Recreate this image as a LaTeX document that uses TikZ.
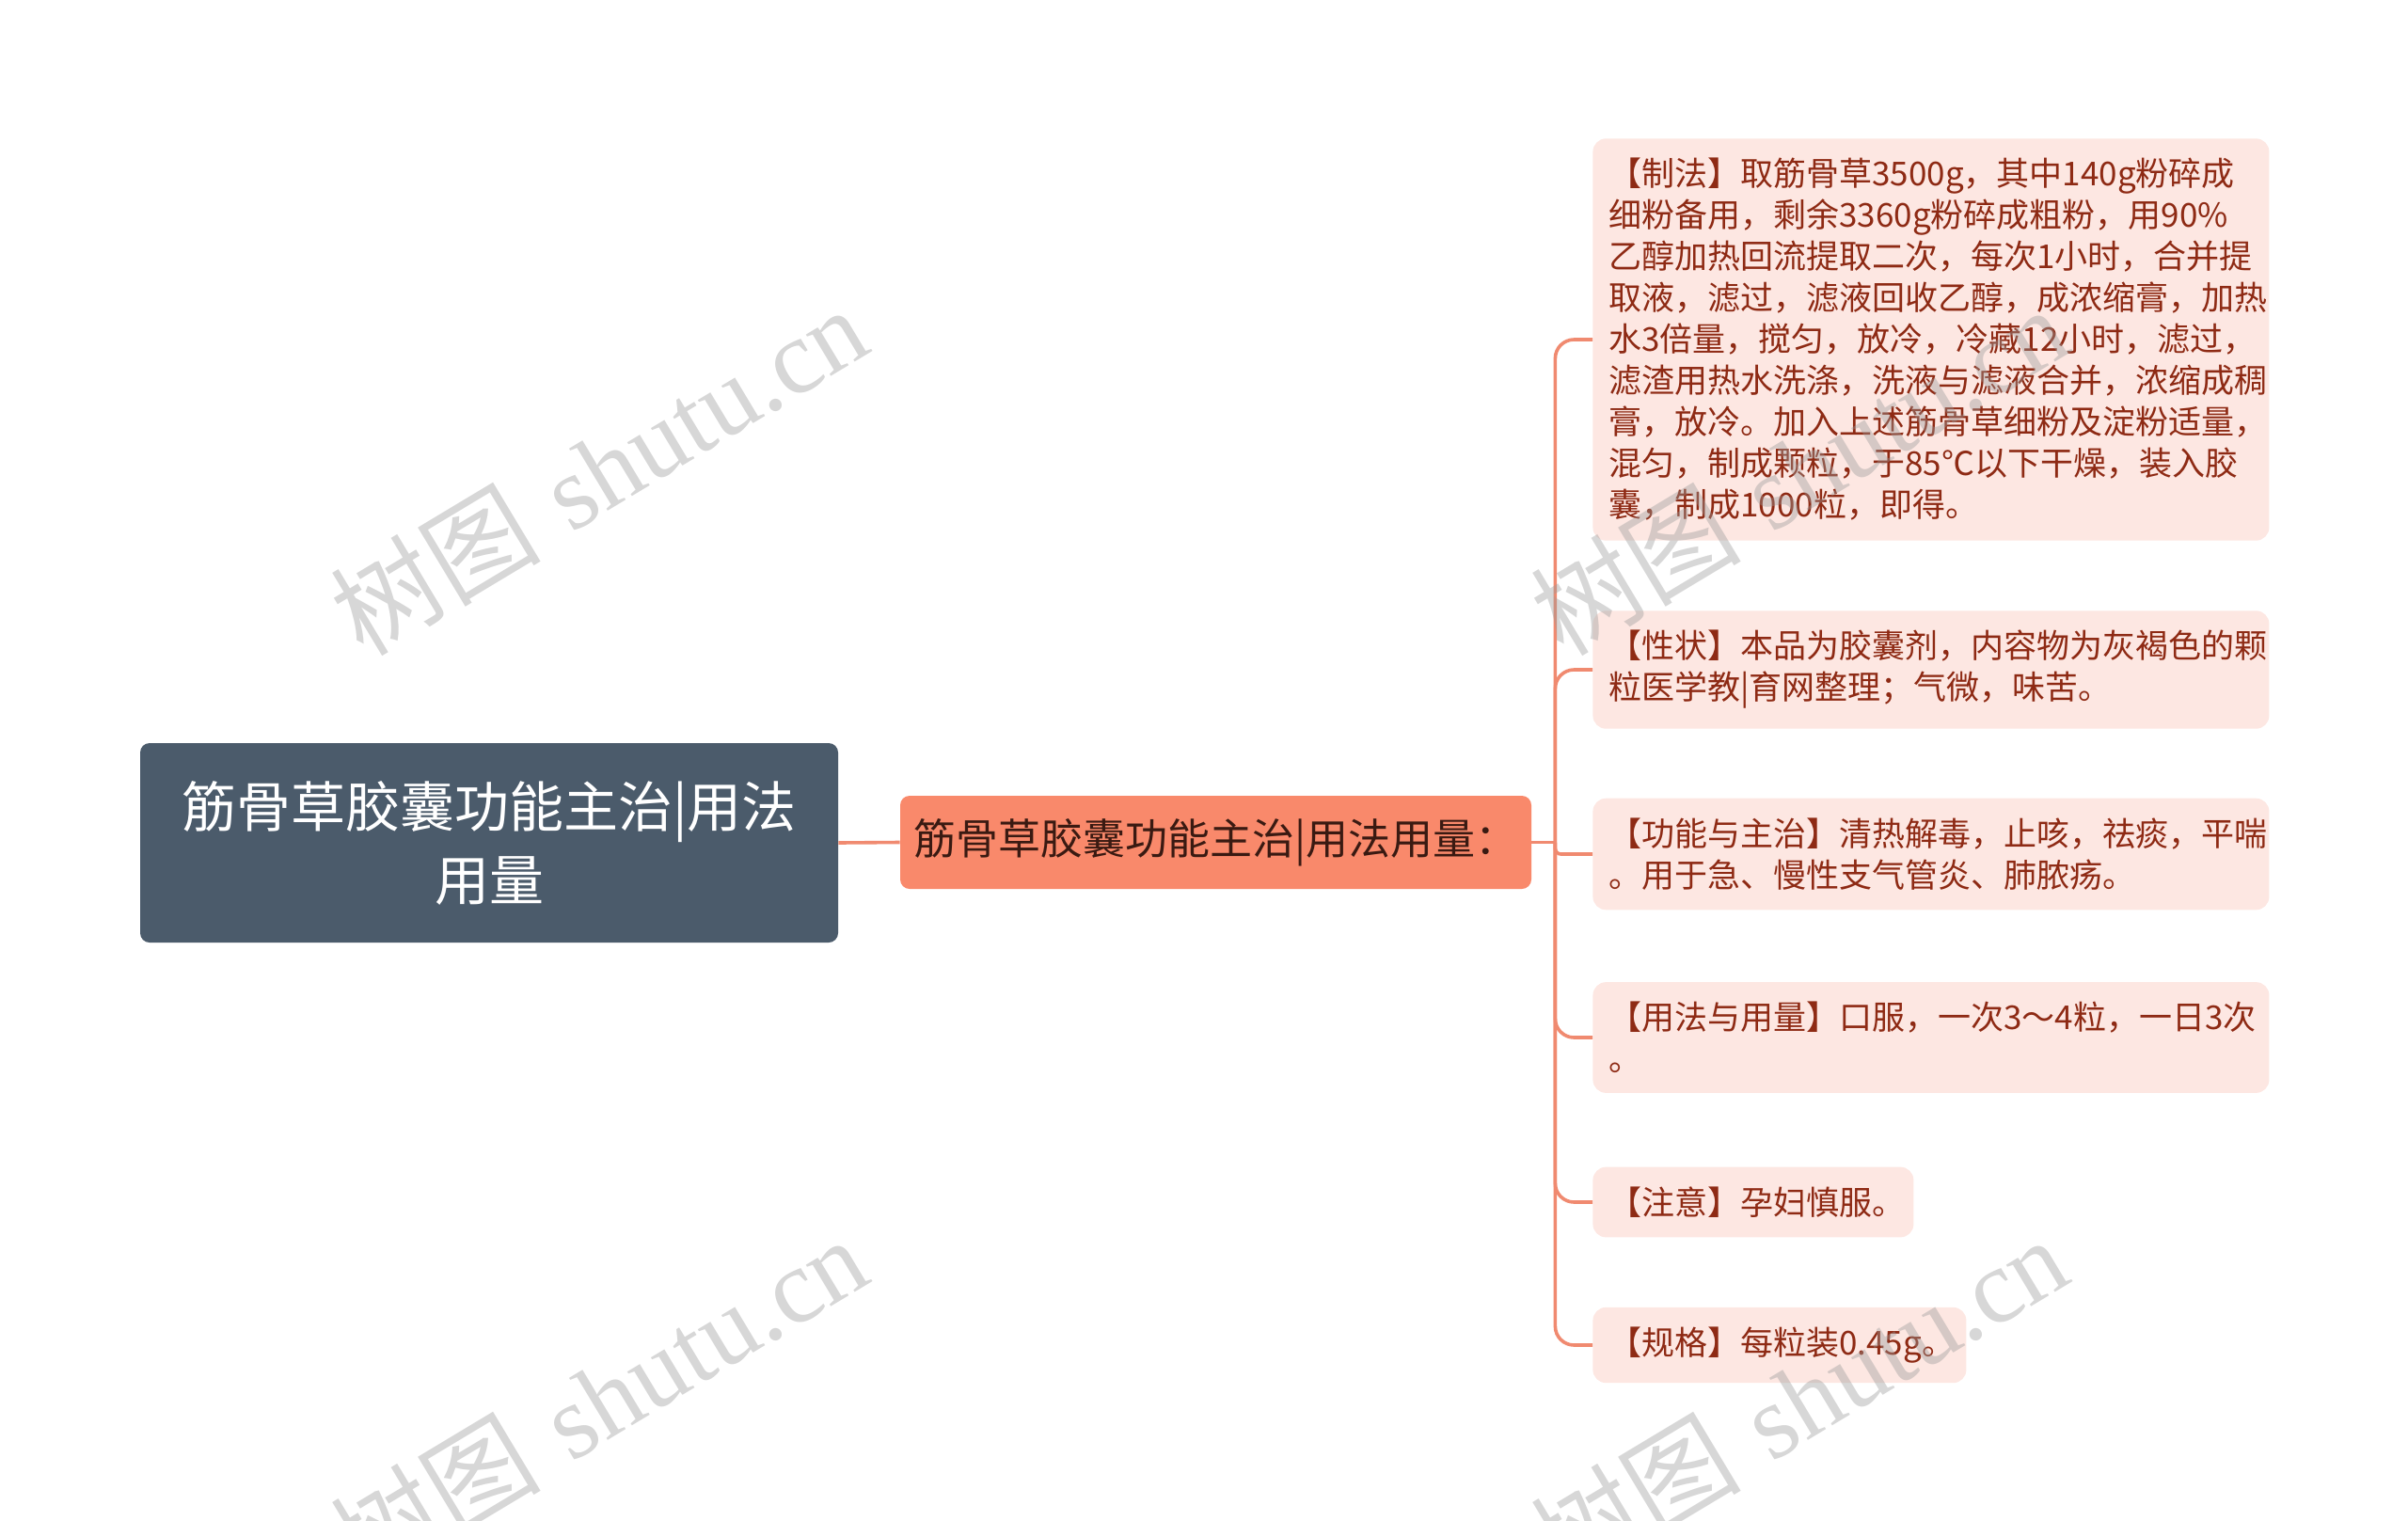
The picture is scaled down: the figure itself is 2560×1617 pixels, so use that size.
\documentclass[tikz,border=0pt]{standalone}
\usepackage{fontspec}
\newfontfamily\cjk{Noto Sans CJK SC}
\newfontfamily\wmserif{Liberation Serif}
\usetikzlibrary{calc}

\definecolor{rootfill}{HTML}{4B5B6B}
\definecolor{midfill}{HTML}{F9896B}
\definecolor{midtext}{HTML}{3A1A12}
\definecolor{leaffill}{HTML}{FDE7E2}
\definecolor{leaftext}{HTML}{8E2A14}
\definecolor{linkcol}{HTML}{F08A70}
\definecolor{wmgray}{HTML}{9A9A9A}

\tikzset{
    rootbox/.style={fill=rootfill, rounded corners=5pt, text=white, align=center,
        font=\cjk\fontsize{29}{39}\selectfont, minimum width=371pt, minimum height=106pt, inner sep=0pt},
    midbox/.style={fill=midfill, rounded corners=5pt, text=midtext,
        font=\cjk\fontsize{22.5}{28}\selectfont, minimum width=335.5pt, minimum height=49.5pt, inner sep=0pt},
    leafbox/.style={fill=leaffill, rounded corners=7pt, text=leaftext, align=left, anchor=west,
        font=\cjk\fontsize{17.5}{22}\selectfont, text width=#1, inner xsep=8.5pt, inner ysep=10.5pt},
    leafbox/.default=342.5pt,
    link/.style={draw=linkcol, line width=1.8pt},
    watermark/.style={text=wmgray, text opacity=0.4, rotate=31, font=\fontsize{56}{60}\selectfont}
}

\begin{document}
\begin{tikzpicture}[x=0.5pt,y=-0.5pt]
        \useasboundingbox (0,0) rectangle (2560,1617);

        \node[rootbox] (root) at (520,896) {筋骨草胶囊功能主治|用法\\用量};
        \node[midbox] (mid) at (1292.5,895.5) {筋骨草胶囊功能主治|用法用量：};

        \node[leafbox] (zhifa) at (1693,361) {【制法】取筋骨草3500g，其中140g粉碎成\\细粉备用，剩余3360g粉碎成粗粉，用90\%\\乙醇加热回流提取二次，每次1小时，合并提\\取液，滤过，滤液回收乙醇，成浓缩膏，加热\\水3倍量，搅匀，放冷，冷藏12小时，滤过，\\滤渣用热水洗涤，洗液与滤液合并，浓缩成稠\\膏，放冷。加入上述筋骨草细粉及淀粉适量，\\混匀，制成颗粒，于85℃以下干燥，装入胶\\囊，制成1000粒，即得。};
        \node[leafbox] (xingzhuang) at (1693,712) {【性状】本品为胶囊剂，内容物为灰褐色的颗\\粒医学教|育网整理；气微，味苦。};
        \node[leafbox] (gongneng) at (1693,908) {【功能与主治】清热解毒，止咳，祛痰，平喘\\。用于急、慢性支气管炎、肺脓疡。};
        \node[leafbox] (yongfa) at (1693,1103) {【用法与用量】口服，一次3～4粒，一日3次\\。};
        \node[leafbox=153.5pt] (zhuyi) at (1693,1278) {【注意】孕妇慎服。};
        \node[leafbox=181.5pt] (guige) at (1693,1430) {【规格】每粒装0.45g。};

        \coordinate (hub) at ($(mid.east)+(25,0)$);
        \draw[link] (root.east) -- (mid.west);
        \draw[link] (mid.east) -- (hub);
        \draw[link, rounded corners=10pt] (hub) |- (zhifa.west);
        \draw[link, rounded corners=10pt] (hub) |- (xingzhuang.west);
        \draw[link, rounded corners=3pt] (hub) |- (gongneng.west);
        \draw[link, rounded corners=10pt] (hub) |- (yongfa.west);
        \draw[link, rounded corners=10pt] (hub) |- (zhuyi.west);
        \draw[link, rounded corners=10pt] (hub) |- (guige.west);

        \node[watermark] (wm1) at (636,500) {{\cjk 树图} {\wmserif shutu.cn}};
        \node[watermark] (wm2) at (1912,500) {{\cjk 树图} {\wmserif shutu.cn}};
        \node[watermark] (wm3) at (636,1488) {{\cjk 树图} {\wmserif shutu.cn}};
        \node[watermark] (wm4) at (1912,1488) {{\cjk 树图} {\wmserif shutu.cn}};
    \end{tikzpicture}
\end{document}
